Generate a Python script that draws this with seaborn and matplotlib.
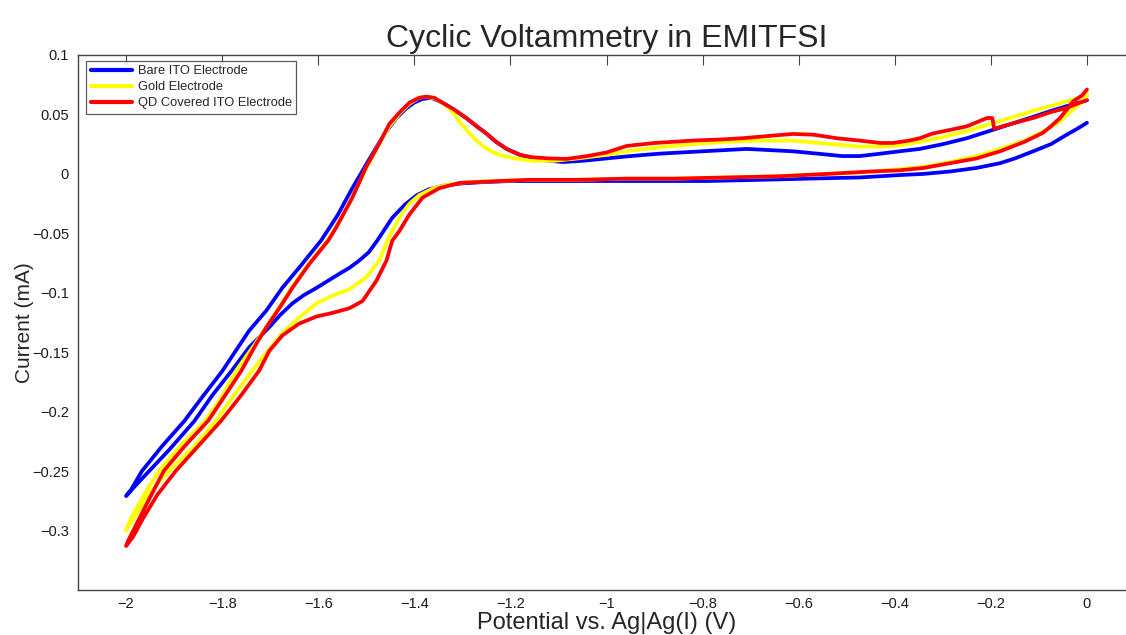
import numpy as np
import pandas as pd
import matplotlib
matplotlib.use("Agg")
import matplotlib.pyplot as plt
import seaborn as sns

# ---------------- data (potential V vs Ag|Ag(I), current mA), path order ----------------
series_names = ["Bare ITO Electrode", "Gold Electrode", "QD Covered ITO Electrode"]
series_colors = ["#0000FF", "#FFFF00", "#FF0000"]

bare_v = [0.000, -0.020, -0.042, -0.075, -0.112, -0.150, -0.181, -0.230, -0.285, -0.340,
          -0.390, -0.473, -0.580, -0.681, -0.790, -0.890, -1.000, -1.100, -1.200, -1.260,
          -1.300, -1.340, -1.370, -1.395, -1.420, -1.446, -1.477, -1.495, -1.515, -1.535,
          -1.556, -1.580, -1.604, -1.630, -1.654, -1.680, -1.702, -1.744, -1.779, -1.820,
          -1.858, -1.910, -1.952, -1.980, -2.000,
          -1.990, -1.967, -1.925, -1.879, -1.840, -1.800, -1.744, -1.708, -1.675, -1.640,
          -1.594, -1.560, -1.529, -1.500, -1.475, -1.458, -1.437, -1.417, -1.400, -1.383,
          -1.365, -1.342, -1.317, -1.292, -1.270, -1.250, -1.230, -1.208, -1.180, -1.154,
          -1.120, -1.090, -1.050, -1.000, -0.950, -0.890, -0.800, -0.708, -0.660, -0.612,
          -0.560, -0.510, -0.473, -0.430, -0.390, -0.348, -0.300, -0.250, -0.196, -0.150,
          -0.112, -0.075, -0.042, -0.015, 0.000]
bare_i = [0.043, 0.038, 0.033, 0.025, 0.019, 0.013, 0.009, 0.005, 0.002, 0.000,
          -0.001, -0.003, -0.004, -0.005, -0.006, -0.006, -0.006, -0.006, -0.006, -0.007,
          -0.008, -0.010, -0.013, -0.018, -0.026, -0.037, -0.056, -0.066, -0.073, -0.079,
          -0.084, -0.090, -0.096, -0.102, -0.109, -0.119, -0.129, -0.146, -0.165, -0.186,
          -0.208, -0.232, -0.250, -0.262, -0.271,
          -0.266, -0.250, -0.229, -0.208, -0.187, -0.166, -0.132, -0.115, -0.096, -0.079,
          -0.056, -0.035, -0.012, 0.008, 0.025, 0.036, 0.047, 0.055, 0.060, 0.063,
          0.064, 0.060, 0.054, 0.047, 0.040, 0.034, 0.027, 0.021, 0.016, 0.013,
          0.011, 0.010, 0.011, 0.013, 0.015, 0.017, 0.019, 0.021, 0.020, 0.019,
          0.017, 0.015, 0.015, 0.017, 0.019, 0.021, 0.025, 0.030, 0.037, 0.043,
          0.048, 0.053, 0.057, 0.060, 0.062]

gold_v = [0.000, -0.015, -0.040, -0.060, -0.085, -0.130, -0.181, -0.230, -0.285, -0.340,
          -0.390, -0.470, -0.540, -0.640, -0.750, -0.860, -0.960, -1.060, -1.160, -1.230,
          -1.290, -1.330, -1.360, -1.390, -1.410, -1.430, -1.456, -1.473, -1.500, -1.535,
          -1.571, -1.604, -1.640, -1.675, -1.717, -1.737, -1.775, -1.813, -1.860, -1.910,
          -1.950, -1.980, -2.000,
          -1.990, -1.960, -1.931, -1.885, -1.835, -1.800, -1.771, -1.735, -1.710, -1.683,
          -1.656, -1.621, -1.581, -1.550, -1.525, -1.500, -1.475, -1.452, -1.430, -1.410,
          -1.390, -1.375, -1.355, -1.335, -1.320, -1.306, -1.285, -1.265, -1.245, -1.223,
          -1.190, -1.154, -1.110, -1.060, -1.000, -0.958, -0.900, -0.821, -0.750, -0.680,
          -0.612, -0.560, -0.500, -0.473, -0.430, -0.390, -0.348, -0.300, -0.250, -0.181,
          -0.112, -0.042, -0.008, 0.000]
gold_i = [0.066, 0.059, 0.050, 0.043, 0.037, 0.028, 0.021, 0.015, 0.010, 0.006,
          0.004, 0.001, 0.000, -0.002, -0.003, -0.004, -0.004, -0.005, -0.005, -0.006,
          -0.007, -0.009, -0.012, -0.018, -0.025, -0.036, -0.056, -0.073, -0.087, -0.097,
          -0.1025, -0.109, -0.121, -0.134, -0.155, -0.1655, -0.186, -0.2076, -0.230, -0.2496,
          -0.268, -0.287, -0.300,
          -0.290, -0.268, -0.2496, -0.228, -0.2076, -0.187, -0.1655, -0.145, -0.130, -0.113,
          -0.096, -0.076, -0.056, -0.036, -0.016, 0.005, 0.024, 0.040, 0.051, 0.059,
          0.064, 0.065, 0.063, 0.058, 0.052, 0.044, 0.034, 0.026, 0.020, 0.016,
          0.013, 0.011, 0.011, 0.013, 0.016, 0.019, 0.022, 0.025, 0.027, 0.028,
          0.028, 0.026, 0.024, 0.023, 0.023, 0.024, 0.027, 0.031, 0.036, 0.0445,
          0.053, 0.061, 0.065, 0.066]

qd_v = [0.000, -0.010, -0.029, -0.042, -0.056, -0.075, -0.092, -0.130, -0.181, -0.230,
        -0.285, -0.340, -0.390, -0.450, -0.540, -0.640, -0.750, -0.860, -0.958, -1.060,
        -1.160, -1.223, -1.306, -1.348, -1.383, -1.410, -1.431, -1.446, -1.458, -1.479,
        -1.508, -1.535, -1.571, -1.604, -1.640, -1.675, -1.702, -1.723, -1.760, -1.802,
        -1.850, -1.896, -1.935, -1.965, -1.985, -2.000,
        -1.995, -1.975, -1.950, -1.921, -1.878, -1.829, -1.795, -1.760, -1.729, -1.708,
        -1.681, -1.654, -1.619, -1.579, -1.5625, -1.529, -1.500, -1.475, -1.452, -1.430,
        -1.410, -1.390, -1.375, -1.358, -1.342, -1.317, -1.292, -1.270, -1.250, -1.230,
        -1.208, -1.180, -1.154, -1.120, -1.083, -1.040, -1.000, -0.958, -0.900, -0.821,
        -0.760, -0.717, -0.660, -0.612, -0.570, -0.521, -0.473, -0.430, -0.404, -0.370,
        -0.348, -0.321, -0.285, -0.250, -0.208, -0.197, -0.193, -0.150, -0.112, -0.075,
        -0.042, -0.008, 0.000]
qd_i = [0.071, 0.066, 0.061, 0.054, 0.047, 0.040, 0.0345, 0.027, 0.019, 0.013,
        0.009, 0.005, 0.003, 0.002, 0.000, -0.002, -0.003, -0.004, -0.004, -0.005,
        -0.005, -0.006, -0.0076, -0.012, -0.020, -0.034, -0.048, -0.0563, -0.073, -0.090,
        -0.107, -0.113, -0.117, -0.120, -0.126, -0.136, -0.149, -0.1655, -0.186, -0.2076,
        -0.229, -0.2496, -0.270, -0.290, -0.305, -0.313,
        -0.308, -0.292, -0.272, -0.2496, -0.229, -0.2076, -0.187, -0.1655, -0.143, -0.129,
        -0.113, -0.096, -0.076, -0.056, -0.045, -0.020, 0.006, 0.024, 0.042, 0.052,
        0.060, 0.064, 0.065, 0.064, 0.060, 0.054, 0.047, 0.040, 0.034, 0.027,
        0.021, 0.016, 0.014, 0.013, 0.0126, 0.015, 0.018, 0.0235, 0.026, 0.028,
        0.029, 0.030, 0.032, 0.0336, 0.033, 0.030, 0.028, 0.026, 0.026, 0.028,
        0.030, 0.034, 0.037, 0.040, 0.047, 0.047, 0.038, 0.043, 0.047, 0.052,
        0.0555, 0.061, 0.062]

x_ticks = [-2.0, -1.8, -1.6, -1.4, -1.2, -1.0, -0.8, -0.6, -0.4, -0.2, 0.0]
x_tick_labels = ["\u22122", "\u22121.8", "\u22121.6", "\u22121.4", "\u22121.2", "\u22121",
                 "\u22120.8", "\u22120.6", "\u22120.4", "\u22120.2", "0"]
y_ticks = [-0.3, -0.25, -0.2, -0.15, -0.1, -0.05, 0.0, 0.05, 0.1]
y_tick_labels = ["\u22120.3", "\u22120.25", "\u22120.2", "\u22120.15", "\u22120.1",
                 "\u22120.05", "0", "0.05", "0.1"]

title = "Cyclic Voltammetry in EMITFSI"
x_label = "Potential vs. Ag|Ag(I) (V)"
y_label = "Current (mA)"

# ---------------- figure ----------------
sns.set_style("white")
plt.rcParams["font.family"] = ["Liberation Sans", "DejaVu Sans"]

fig = plt.figure(figsize=(11.26, 6.35), dpi=100)
ax = fig.add_axes([78 / 1126, 1 - 590 / 635, (1135 - 78) / 1126, (590 - 55) / 635])

for name, color, v, i in zip(series_names, series_colors,
                             [bare_v, gold_v, qd_v], [bare_i, gold_i, qd_i]):
    df = pd.DataFrame({"v": v, "i": i})
    sns.lineplot(data=df, x="v", y="i", sort=False, estimator=None, color=color,
                 linewidth=2.7, label=name, ax=ax)

ax.set_xlim(-2.1, 0.1)
ax.set_ylim(-0.35, 0.1)
ax.set_xticks(x_ticks)
ax.set_xticklabels(x_tick_labels)
ax.set_yticks(y_ticks)
ax.set_yticklabels(y_tick_labels)
ax.tick_params(axis="both", direction="in", length=7, width=0.8, color="#444444",
               labelsize=10.5, top=True, right=False, labelcolor="#1a1a1a")
ax.tick_params(axis="y", pad=6.5)
ax.tick_params(axis="x", pad=5)
for s in ax.spines.values():
    s.set_color("#444444")
    s.set_linewidth(1.0)

ax.set_title(title, fontsize=23, pad=6)
ax.set_xlabel(x_label, fontsize=17, labelpad=1)
ax.set_ylabel(y_label, fontsize=15, labelpad=-1.5)

leg = ax.legend(loc="upper left", bbox_to_anchor=(0.0076, 0.989), borderaxespad=0,
                fontsize=9.3, frameon=True, fancybox=False, edgecolor="#333333",
                handlelength=3.2, handletextpad=0.45, labelspacing=0.3, borderpad=0.35)
leg.get_frame().set_linewidth(0.9)
for line in leg.get_lines():
    line.set_linewidth(3)

fig.savefig("out.png", dpi=100, facecolor="white")
